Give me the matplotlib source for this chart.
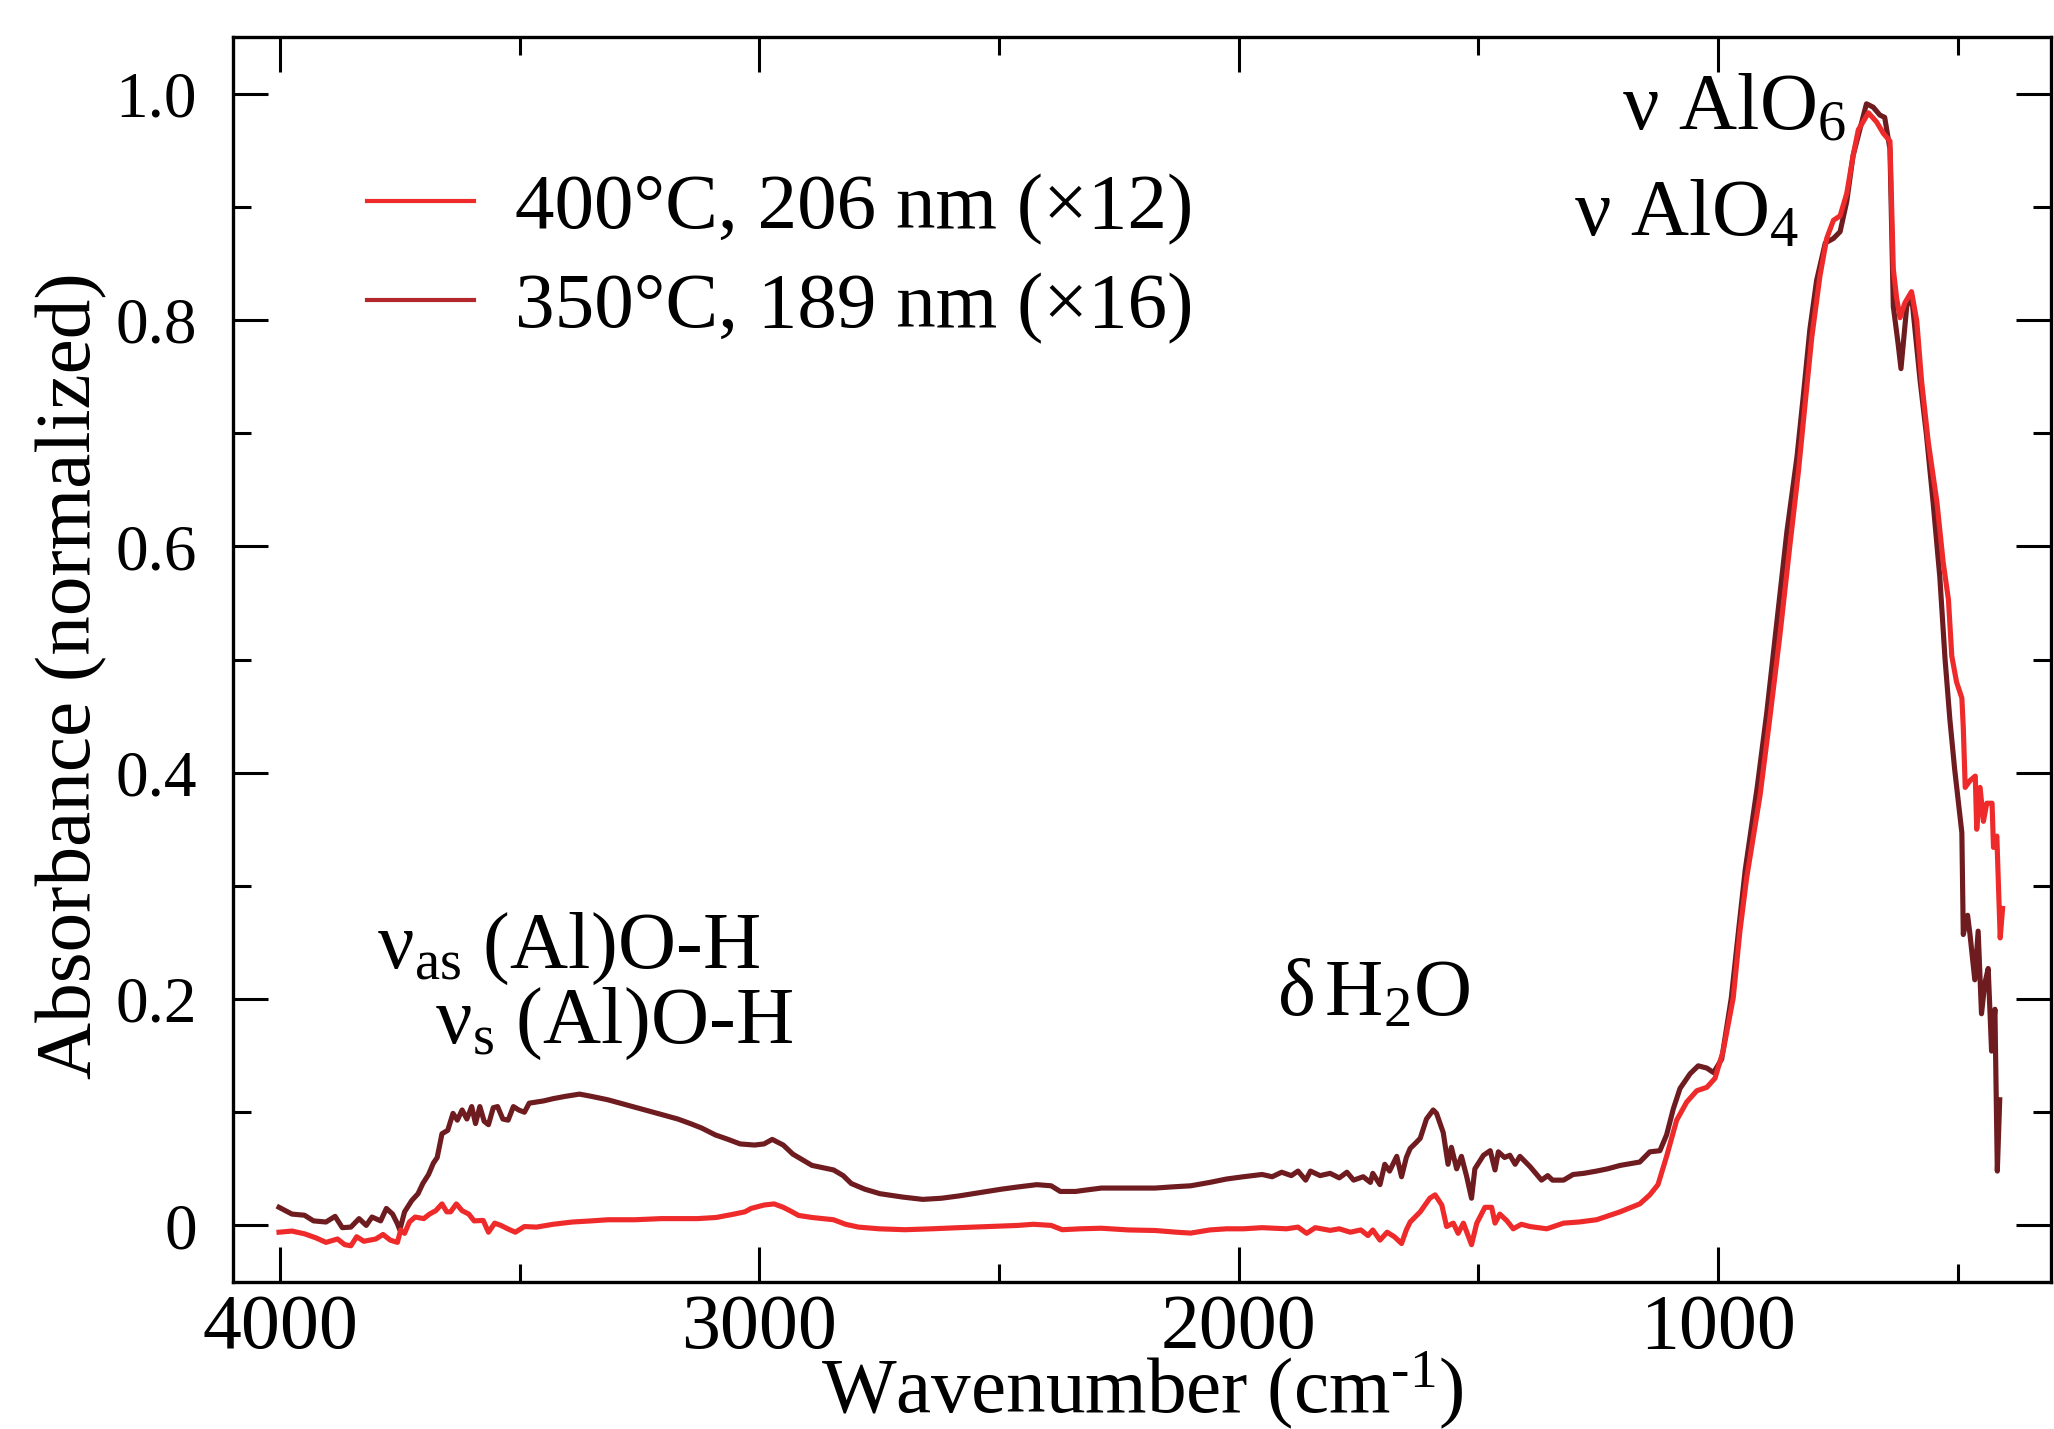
import matplotlib
matplotlib.use("Agg")
import matplotlib.pyplot as plt
from matplotlib.ticker import MultipleLocator, FuncFormatter
from matplotlib.lines import Line2D

# ---------------- data ----------------
wn_350 = [4002, 3975, 3949, 3930, 3904, 3885, 3870, 3852, 3835, 3820, 3808, 3790,
          3778, 3765, 3755, 3750, 3740, 3725, 3712, 3702, 3690, 3680, 3672, 3662,
          3650, 3639, 3630, 3620, 3610, 3600, 3592, 3583, 3574, 3565, 3555, 3546,
          3535, 3524, 3513, 3502, 3490, 3480, 3465, 3450, 3430, 3405, 3375, 3350,
          3316, 3290, 3264, 3230, 3204, 3170, 3144, 3120, 3092, 3065, 3040, 3010,
          2990, 2973, 2950, 2930, 2910, 2890, 2868, 2845, 2825, 2808, 2780, 2748,
          2700, 2659, 2620, 2584, 2540, 2495, 2460, 2421, 2391, 2372, 2340, 2323,
          2286, 2230, 2174, 2140, 2100, 2060, 2025, 1990, 1951, 1930, 1910, 1890,
          1876, 1860, 1850, 1830, 1809, 1790, 1774, 1760, 1740, 1725, 1720, 1705,
          1695, 1685, 1670, 1660, 1650, 1642, 1630, 1621, 1608, 1594, 1587, 1573,
          1563, 1556, 1545, 1535, 1524, 1514, 1507, 1489, 1475, 1465, 1458, 1445,
          1434, 1423, 1413, 1392, 1380, 1368, 1355, 1345, 1322, 1302, 1280, 1253,
          1230, 1204, 1163, 1142, 1121, 1107, 1093, 1079, 1058, 1041, 1023, 1009,
          992, 972, 957, 943, 918, 898, 877, 856, 835, 822, 808, 794,
          776, 759, 745, 731, 718, 704, 690, 676, 662, 652, 641, 634,
          624, 618, 606, 596, 578, 565, 551, 537, 526, 516, 506, 498,
          491, 488, 479, 474, 464, 457, 450, 443, 436, 429, 422, 417, 412]
abs_350 = [0.016, 0.010, 0.009, 0.004, 0.003, 0.008, -0.002, -0.0015, 0.006, 0.000, 0.0074, 0.004,
           0.015, 0.010, 0.0015, -0.004, 0.012, 0.022, 0.028, 0.037, 0.045, 0.055, 0.060, 0.081,
           0.084, 0.099, 0.093, 0.102, 0.094, 0.105, 0.090, 0.105, 0.092, 0.089, 0.104, 0.105,
           0.094, 0.093, 0.105, 0.102, 0.100, 0.108, 0.109, 0.110, 0.112, 0.114, 0.116, 0.114,
           0.111, 0.108, 0.105, 0.101, 0.098, 0.094, 0.090, 0.086, 0.080, 0.076, 0.072, 0.071,
           0.072, 0.076, 0.071, 0.063, 0.058, 0.053, 0.051, 0.049, 0.044, 0.037, 0.032, 0.028,
           0.025, 0.023, 0.024, 0.026, 0.029, 0.032, 0.034, 0.036, 0.035, 0.030, 0.030, 0.031,
           0.033, 0.033, 0.033, 0.034, 0.035, 0.038, 0.041, 0.043, 0.045, 0.043, 0.047, 0.044,
           0.048, 0.040, 0.048, 0.044, 0.046, 0.042, 0.047, 0.040, 0.043, 0.038, 0.046, 0.036,
           0.054, 0.048, 0.061, 0.043, 0.060, 0.068, 0.073, 0.077, 0.094, 0.102, 0.099, 0.082,
           0.054, 0.069, 0.050, 0.061, 0.043, 0.024, 0.050, 0.062, 0.066, 0.049, 0.065, 0.060,
           0.062, 0.054, 0.061, 0.052, 0.046, 0.040, 0.044, 0.040, 0.040, 0.045, 0.046, 0.048,
           0.050, 0.053, 0.056, 0.065, 0.066, 0.080, 0.103, 0.121, 0.134, 0.141, 0.139, 0.135,
           0.147, 0.201, 0.260, 0.314, 0.387, 0.453, 0.533, 0.613, 0.679, 0.732, 0.792, 0.835,
           0.868, 0.872, 0.878, 0.905, 0.945, 0.968, 0.991, 0.988, 0.981, 0.979, 0.951, 0.812,
           0.779, 0.757, 0.812, 0.822, 0.746, 0.699, 0.639, 0.573, 0.500, 0.447, 0.403, 0.373,
           0.347, 0.257, 0.274, 0.257, 0.217, 0.260, 0.187, 0.214, 0.227, 0.154, 0.191, 0.048, 0.111]

wn_400 = [4002, 3975, 3949, 3925, 3904, 3880, 3865, 3852, 3840, 3825, 3800, 3785,
          3770, 3755, 3748, 3740, 3730, 3718, 3700, 3688, 3675, 3662, 3652, 3644,
          3632, 3620, 3606, 3595, 3576, 3565, 3552, 3539, 3525, 3509, 3490, 3465,
          3430, 3390, 3350, 3316, 3260, 3204, 3160, 3129, 3090, 3055, 3030, 3017,
          2990, 2969, 2950, 2936, 2918, 2890, 2845, 2820, 2793, 2750, 2696, 2640,
          2584, 2510, 2460, 2428, 2391, 2368, 2330, 2286, 2230, 2174, 2130, 2100,
          2060, 2025, 1990, 1951, 1900, 1876, 1858, 1840, 1809, 1790, 1767, 1745,
          1730, 1720, 1705, 1690, 1675, 1660, 1650, 1642, 1621, 1601, 1590, 1576,
          1566, 1552, 1542, 1531, 1514, 1503, 1486, 1472, 1465, 1455, 1440, 1427,
          1410, 1392, 1357, 1322, 1290, 1253, 1204, 1163, 1142, 1125, 1107, 1086,
          1065, 1044, 1023, 1006, 989, 968, 954, 940, 912, 892, 871, 850,
          832, 818, 804, 787, 773, 759, 745, 731, 718, 707, 686, 669,
          655, 641, 634, 627, 620, 610, 596, 585, 575, 561, 543, 530,
          519, 512, 502, 491, 488, 484, 474, 463, 460, 453, 446, 439,
          428, 425, 418, 411, 406]
abs_400 = [-0.006, -0.005, -0.0074, -0.011, -0.015, -0.012, -0.017, -0.018, -0.010, -0.014, -0.012, -0.008,
           -0.013, -0.015, -0.004, -0.007, 0.003, 0.0074, 0.006, 0.010, 0.013, 0.019, 0.012, 0.012,
           0.019, 0.013, 0.010, 0.004, 0.0044, -0.006, 0.002, 0.000, -0.003, -0.006, -0.001, -0.0015,
           0.001, 0.003, 0.004, 0.005, 0.005, 0.006, 0.006, 0.006, 0.007, 0.0098, 0.012, 0.015,
           0.018, 0.019, 0.016, 0.013, 0.0088, 0.007, 0.005, 0.001, -0.0015, -0.003, -0.0038, -0.003,
           -0.002, -0.0008, 0.000, 0.001, 0.000, -0.0038, -0.003, -0.0025, -0.004, -0.0045, -0.006, -0.0068,
           -0.004, -0.003, -0.003, -0.002, -0.003, -0.0015, -0.007, -0.002, -0.0044, -0.003, -0.006, -0.004,
           -0.009, -0.004, -0.013, -0.006, -0.010, -0.016, -0.004, 0.003, 0.012, 0.024, 0.027, 0.018,
           -0.001, 0.002, -0.007, 0.002, -0.017, 0.002, 0.016, 0.016, 0.002, 0.010, 0.004, -0.003,
           0.001, -0.001, -0.003, 0.002, 0.003, 0.005, 0.012, 0.019, 0.027, 0.036, 0.061, 0.093,
           0.109, 0.119, 0.122, 0.130, 0.154, 0.201, 0.260, 0.307, 0.380, 0.447, 0.520, 0.600,
           0.666, 0.726, 0.785, 0.839, 0.872, 0.888, 0.892, 0.912, 0.945, 0.968, 0.983, 0.975,
           0.965, 0.958, 0.845, 0.819, 0.802, 0.815, 0.825, 0.799, 0.746, 0.692, 0.639, 0.586,
           0.553, 0.503, 0.480, 0.466, 0.440, 0.387, 0.393, 0.397, 0.350, 0.387, 0.357, 0.373,
           0.373, 0.334, 0.344, 0.254, 0.280]

labels = ["400°C, 206 nm (×12)", "350°C, 189 nm (×16)"]

# ---------------- style ----------------
plt.rcParams['font.family'] = ['Liberation Serif', 'DejaVu Serif']
plt.rcParams['mathtext.fontset'] = 'custom'
plt.rcParams['mathtext.rm'] = 'Liberation Serif'
plt.rcParams['mathtext.it'] = 'Liberation Serif:italic'
plt.rcParams['mathtext.bf'] = 'Liberation Serif:bold'

RED = '#ee2a2a'
DARK = '#6e1c20'
DARK_LEG = '#b2282d'

fig = plt.figure(figsize=(20.54, 14.29), dpi=100)
ax = fig.add_axes([233/2054, 1-1282/1429, (2051-233)/2054, (1282-37)/1429])

ax.plot(wn_350, abs_350, color=DARK, lw=3.7, solid_joinstyle='round')
ax.plot(wn_400, abs_400, color=RED, lw=3.7, solid_joinstyle='round')

ax.set_xlim(4098, 305)
ax.set_ylim(-0.05, 1.05)

ax.xaxis.set_major_locator(MultipleLocator(1000))
ax.xaxis.set_minor_locator(MultipleLocator(500))
ax.yaxis.set_major_locator(MultipleLocator(0.2))
ax.yaxis.set_minor_locator(MultipleLocator(0.1))
ax.yaxis.set_major_formatter(FuncFormatter(lambda v, p: '0' if abs(v) < 1e-9 else f'{v:.1f}'))

for s in ax.spines.values():
    s.set_linewidth(2.4)
ax.tick_params(which='both', direction='in', top=True, right=True, width=2.2)
ax.tick_params(which='major', length=25)
ax.tick_params(which='minor', length=13)
ax.tick_params(axis='x', which='major', labelsize=56, pad=8)
ax.tick_params(axis='y', which='major', labelsize=47, pad=26)

ax.set_xlabel('Wavenumber (cm$^{\\text{-}1}$)', fontsize=57)
ax.xaxis.set_label_coords(0.5, -0.054)
ax.xaxis.label.set_va('top')
ax.set_ylabel('Absorbance (normalized)', fontsize=57)
ax.yaxis.set_label_coords(-0.069, 0.487)

handles = [Line2D([], [], color=RED, lw=3.0), Line2D([], [], color=DARK_LEG, lw=3.0)]
leg = ax.legend(handles, labels, loc='upper left', bbox_to_anchor=(367/2054, 1-173/1429),
                bbox_transform=fig.transFigure, frameon=False, fontsize=57,
                borderpad=0, borderaxespad=0, handlelength=1.35, handletextpad=0.52,
                labelspacing=0.34)

ann = 58
ax.text(1200, 0.968, 'ν AlO$_6$', fontsize=ann, ha='left', va='baseline')
ax.text(1300, 0.874, 'ν AlO$_4$', fontsize=ann, ha='left', va='baseline')
ax.text(3798, 0.228, 'ν$_{\\rm as}$ (Al)O-H', fontsize=ann, ha='left', va='baseline')
ax.text(3677, 0.161, 'ν$_{\\rm s}$ (Al)O-H', fontsize=ann, ha='left', va='baseline')
ax.text(1920, 0.185, 'δ$\\,$H$_2$O', fontsize=ann, ha='left', va='baseline')

fig.savefig('out.png', dpi=100)
